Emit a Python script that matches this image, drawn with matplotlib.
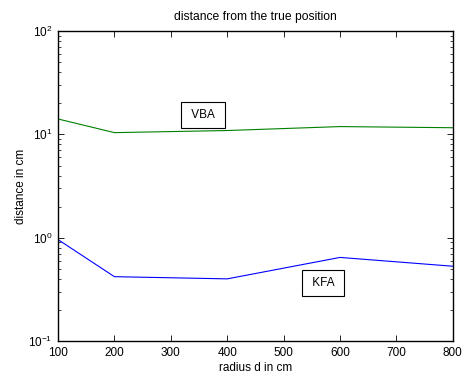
import matplotlib.pyplot as plt
import numpy as np

plt.rcParams['font.family'] = ['Liberation Sans', 'DejaVu Sans']
plt.rcParams['mathtext.default'] = 'regular'

# data
radius = [100, 200, 400, 600, 800]
vba = [14.1, 10.4, 10.9, 11.9, 11.6]
kfa = [0.96, 0.42, 0.40, 0.645, 0.53]

fig = plt.figure(figsize=(4.64, 3.74), dpi=100)
ax = fig.add_axes([0.125, 0.088, 0.851, 0.829])

ax.plot(radius, vba, color='#008000', linewidth=0.8)
ax.plot(radius, kfa, color='#0000ff', linewidth=0.8)

ax.set_yscale('log')
ax.set_xlim(100, 800)
ax.set_ylim(0.1, 100)
ax.set_xticks([100, 200, 300, 400, 500, 600, 700, 800])

ax.tick_params(which='both', direction='in', top=True, right=True, labelsize=8.5)
ax.tick_params(which='major', length=4, width=0.6, pad=4)
ax.tick_params(which='minor', length=2.5, width=0.5)
for s in ax.spines.values():
    s.set_linewidth(1.0)

ax.set_title('distance from the true position', fontsize=8.7, pad=8)
ax.set_xlabel('radius d in cm', fontsize=8.5, labelpad=2.5)
ax.set_ylabel('distance in cm', fontsize=8.5, labelpad=1)

box = dict(boxstyle='square,pad=0.6', facecolor='white', edgecolor='black', linewidth=0.8)
ax.text(357, 15.5, ' VBA ', fontsize=8.5, ha='center', va='center', bbox=box)
ax.text(570, 0.363, ' KFA ', fontsize=8.5, ha='center', va='center', bbox=box)

plt.savefig('out.png', dpi=100)
